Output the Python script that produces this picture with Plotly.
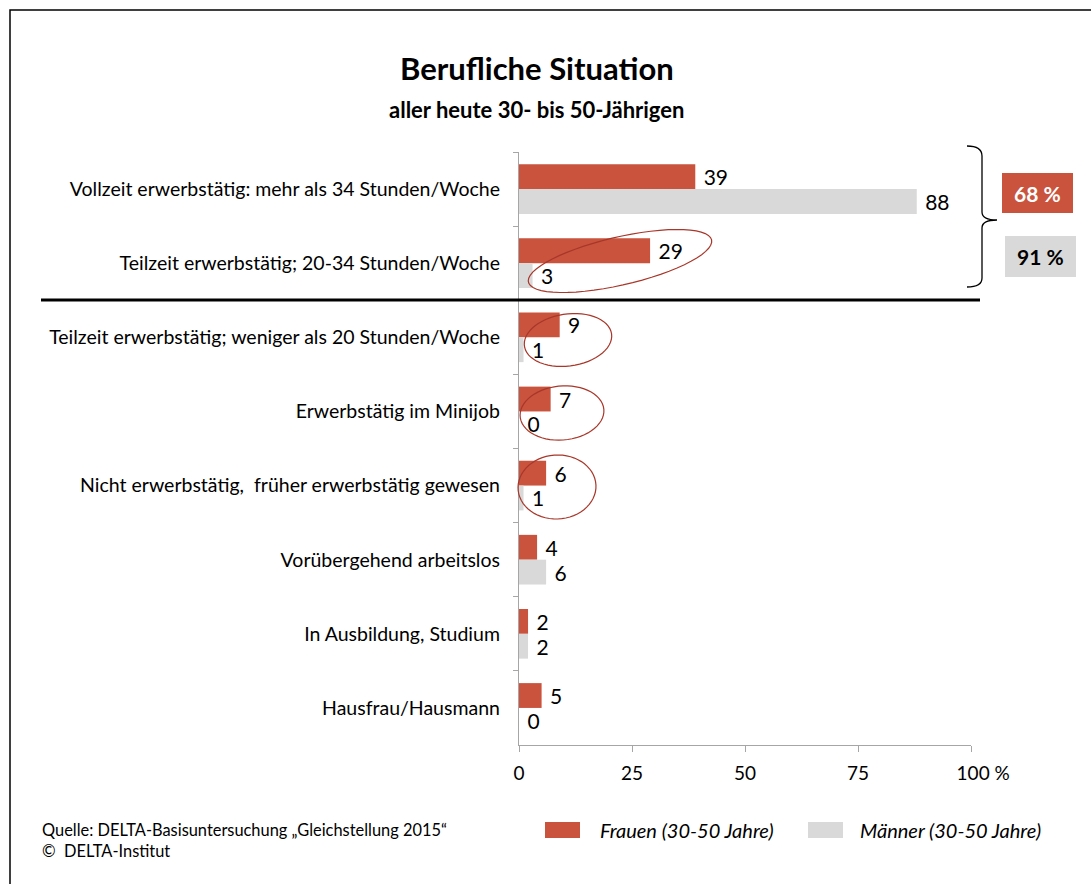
import numpy as np
import plotly.graph_objects as go

categories = [
    "Vollzeit erwerbstätig: mehr als 34 Stunden/Woche",
    "Teilzeit erwerbstätig; 20-34 Stunden/Woche",
    "Teilzeit erwerbstätig; weniger als 20 Stunden/Woche",
    "Erwerbstätig im Minijob",
    "Nicht erwerbstätig,  früher erwerbstätig gewesen",
    "Vorübergehend arbeitslos",
    "In Ausbildung, Studium",
    "Hausfrau/Hausmann",
]
frauen = [39, 29, 9, 7, 6, 4, 2, 5]
maenner = [88, 3, 1, 0, 1, 6, 2, 0]
x_tickvals = [0, 25, 50, 75, 100]
x_ticktext = ["0", "25", "50", "75", "\u00a0\u00a0\u00a0\u00a0\u00a0100 %"]
summary_frauen = "68 %"
summary_maenner = "91 %"

RED = "#C9533D"
GRAY = "#D9D9D9"
ELL = "#A8372A"
FONT = "Lato"

W, H = 1091, 884
L, R, T, B = 519, 971, 152, 745


def px(x):
    return (x - L) / (R - L)


def py(y):
    return (B - y) / (B - T)


def vlabels(vals):
    return ["\u00a0" + str(v) for v in vals]


fig = go.Figure()
fig.add_trace(go.Bar(
    y=categories, x=frauen, orientation="h", name="Frauen (30-50 Jahre)",
    marker=dict(color=RED, line=dict(width=0)),
    text=vlabels(frauen), textposition="outside",
    textfont=dict(size=21, color="black", family=FONT),
    cliponaxis=False, constraintext="none",
))
fig.add_trace(go.Bar(
    y=categories, x=maenner, orientation="h", name="Männer (30-50 Jahre)",
    marker=dict(color=GRAY, line=dict(width=0)),
    text=vlabels(maenner), textposition="outside",
    textfont=dict(size=21, color="black", family=FONT),
    cliponaxis=False, constraintext="none",
))

shapes = []
ann = []

# outer border
shapes.append(dict(type="rect", xref="paper", yref="paper",
                   x0=px(10), x1=px(1105), y0=py(10), y1=py(900),
                   line=dict(color="black", width=1.5), layer="above"))
# thick separator line
shapes.append(dict(type="line", xref="paper", yref="paper",
                   x0=px(41), x1=px(980), y0=py(300), y1=py(300),
                   line=dict(color="black", width=3)))


def ellipse_path(cx, cy, a, b, ang_deg, n=60):
    t = np.linspace(0, 2 * np.pi, n)
    ang = np.deg2rad(ang_deg)
    xs = cx + a * np.cos(t) * np.cos(ang) - b * np.sin(t) * np.sin(ang)
    ys = cy + a * np.cos(t) * np.sin(ang) + b * np.sin(t) * np.cos(ang)
    pts = [f"{px(x):.5f},{py(y):.5f}" for x, y in zip(xs, ys)]
    return "M" + " L".join(pts) + " Z"


for (cx, cy, a, b, ang) in [(620, 261, 94, 24, -13), (568, 340, 44, 26, -8),
                            (562, 413, 42, 27, -5), (557, 487, 39, 32, -3)]:
    shapes.append(dict(type="path", xref="paper", yref="paper",
                       path=ellipse_path(cx, cy, a, b, ang),
                       line=dict(color=ELL, width=1.2)))

# curly brace
brace = (f"M{px(967)},{py(146)} Q{px(982)},{py(146)} {px(982)},{py(156)} "
         f"L{px(982)},{py(212)} Q{px(982)},{py(220)} {px(997)},{py(220)} "
         f"Q{px(982)},{py(220)} {px(982)},{py(228)} "
         f"L{px(982)},{py(278)} Q{px(982)},{py(287)} {px(967)},{py(287)}")
shapes.append(dict(type="path", xref="paper", yref="paper", path=brace,
                   line=dict(color="black", width=1.3)))

# summary boxes
shapes.append(dict(type="rect", xref="paper", yref="paper",
                   x0=px(1002), x1=px(1073), y0=py(173), y1=py(213),
                   fillcolor=RED, line=dict(width=0)))
shapes.append(dict(type="rect", xref="paper", yref="paper",
                   x0=px(1005), x1=px(1076), y0=py(236), y1=py(277),
                   fillcolor=GRAY, line=dict(width=0)))


def text_ann(x, y, text, size, color="black", xanchor="center"):
    ann.append(dict(xref="paper", yref="paper", x=px(x), y=py(y),
                    xanchor=xanchor, yanchor="middle", text=text,
                    showarrow=False,
                    font=dict(size=size, color=color, family=FONT)))


text_ann(1037.5, 193, f"<b>{summary_frauen}</b>", 21, "white")
text_ann(1040.5, 256.5, f"<b>{summary_maenner}</b>", 21)

# titles
text_ann(537, 68, "<b>Berufliche Situation</b>", 31)
text_ann(536, 110, "<b>aller heute 30- bis 50-Jährigen</b>", 22)

# source
text_ann(40, 829, "Quelle: DELTA-Basisuntersuchung „Gleichstellung 2015“", 16.4,
         xanchor="left")
text_ann(40, 850, "©  DELTA-Institut", 16.4, xanchor="left")

# manual legend
for (x0, x1, col, label, tx) in [(545, 580, RED, "Frauen (30-50 Jahre)", 598),
                                 (808, 843, GRAY, "Männer (30-50 Jahre)", 858)]:
    shapes.append(dict(type="rect", xref="paper", yref="paper",
                       x0=px(x0), x1=px(x1), y0=py(822), y1=py(838),
                       fillcolor=col, line=dict(width=0)))
    text_ann(tx, 830, f"<i>{label}</i>", 20, xanchor="left")

fig.update_layout(
    width=W, height=H,
    margin=dict(l=L, r=W - R, t=T, b=H - B, pad=0),
    paper_bgcolor="white", plot_bgcolor="white",
    barmode="group", bargap=0.33, bargroupgap=0,
    showlegend=False,
    font=dict(family=FONT, size=19.5, color="black"),
    shapes=shapes, annotations=ann,
    xaxis=dict(range=[0, 100], tickvals=x_tickvals, ticktext=x_ticktext,
               showgrid=False, zeroline=False, showline=True,
               linecolor="#A6A6A6", linewidth=1.3, ticks="outside",
               ticklen=6, tickcolor="#A6A6A6", tickfont=dict(size=19),
               ticklabelstandoff=5, fixedrange=True),
    yaxis=dict(autorange="reversed", showgrid=False, zeroline=False,
               showline=True, linecolor="#A6A6A6", linewidth=1.3,
               ticks="outside", ticklen=5, tickcolor="#A6A6A6",
               tickson="boundaries", tickfont=dict(size=19.5),
               ticklabelstandoff=14, fixedrange=True),
)

fig.write_html("out.html",
               config={"displayModeBar": False},
               post_script="document.body.style.margin='0';"
                           "document.body.style.overflow='hidden';")
